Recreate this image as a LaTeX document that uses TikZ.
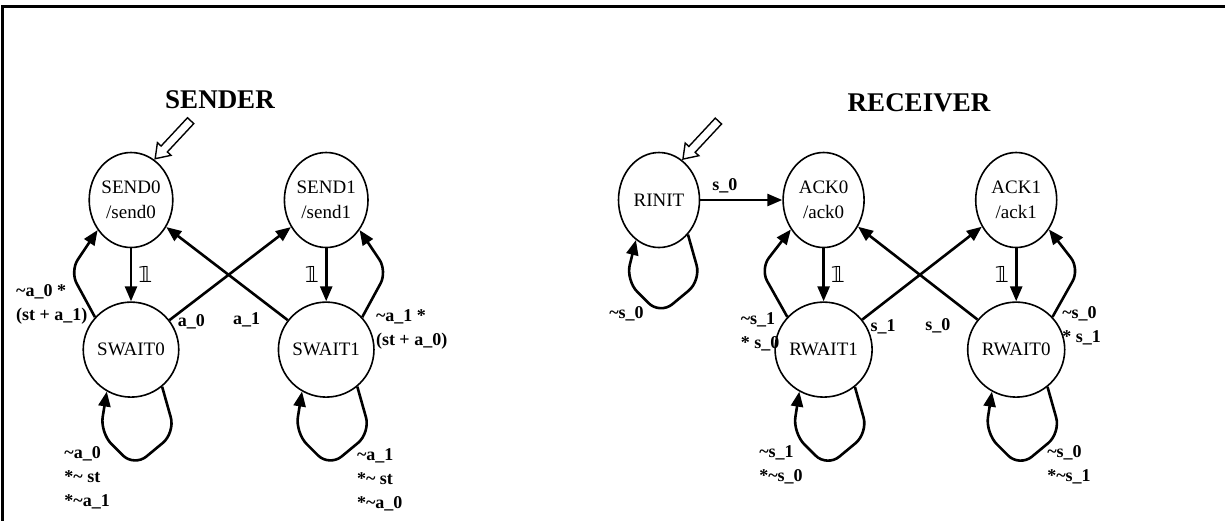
\documentclass[tikz,border=0pt]{standalone}
\usepackage{fontspec}
\setmainfont{Liberation Serif}
\newfontfamily\dejavu{DejaVu Sans}
\usetikzlibrary{positioning,shapes.geometric,shapes.arrows,arrows.meta}

\newcommand{\bbone}{{\dejavu\symbol{"1D7D9}}}

\tikzset{
  fsm/.style={draw, ellipse, line width=0.8pt, minimum width=40.5pt, minimum height=47.5pt,
    inner sep=0pt, align=center, font=\fontsize{9.5}{12.5}\selectfont},
  trans/.style={line width=1.3pt, -{Triangle[length=7.5pt,width=6pt]}},
  lbl/.style={font=\bfseries\fontsize{9}{12}\selectfont, align=left, inner sep=1pt},
  one/.style={font=\fontsize{11}{13}\selectfont, inner sep=3pt},
  ttl/.style={font=\bfseries\fontsize{13.5}{16}\selectfont},
  initarr/.style={draw, single arrow, line width=0.7pt, fill=white, minimum height=26pt,
    single arrow head extend=2.5pt, single arrow tip angle=70, inner sep=1.8pt, rotate=-133},
}

\begin{document}
\begin{tikzpicture}[x=0.5pt,y=0.5pt,auto,node distance=26.5pt and 55pt]
    \useasboundingbox (0,0) rectangle (1225,-521);
    \draw[line width=1.2pt] (1225,-6.5) -| (2.5,-521);

    % sender
    \node[ttl] (sttl) at (220,-100) {SENDER};
    \node[fsm] (send0) at (131,-200) {SEND0\\/send0};
    \node[fsm] (send1) [right=of send0] {SEND1\\/send1};
    \node[fsm] (swait0) [below=of send0] {SWAIT0};
    \node[fsm] (swait1) [below=of send1] {SWAIT1};
    \node[initarr, anchor=tip] (sstart) at (send0.60) {};

    \draw[trans] (send0)
        edge node[one] {\bbone} (swait0);
    \draw[trans] (send1)
        edge node[one,swap] {\bbone} (swait1);
    \draw[trans] (swait0)
        edge node[lbl, pos=0.1, anchor=north west, xshift=-3.5pt] {a\_0} (send1);
    \draw[trans] (swait1)
        edge node[lbl, pos=0.2, anchor=north east, yshift=-4pt] {a\_1} (send0);
    \draw[trans, rounded corners=7pt] (swait0.138)
        -- ++(-25,46) node[lbl, pos=0.33, anchor=east, xshift=2pt, yshift=-1pt] {\textasciitilde a\_0 *\\(st + a\_1)}
        -- (send0.222);
    \draw[trans, rounded corners=7pt] (swait1.42)
        -- ++(25,46) node[lbl, pos=0.3, anchor=north west, xshift=1.5pt, yshift=-1.5pt] {\textasciitilde a\_1 *\\(st + a\_0)}
        -- (send1.318);
    \draw[trans, rounded corners=8pt] (swait0.-50) -- ++(13,-46) -- ++(-41,-34)
        -- ++(-34,34) node[lbl, pos=0.5, anchor=north east, xshift=-2pt, yshift=3pt] {\textasciitilde a\_0\\*\textasciitilde{} st\\*\textasciitilde a\_1}
        -- (swait0.-120);
    \draw[trans, rounded corners=8pt] (swait1.-50) -- ++(13,-46)
        -- ++(-41,-34) node[lbl, pos=0.5, anchor=north west, xshift=2pt, yshift=2pt] {\textasciitilde a\_1\\*\textasciitilde{} st\\*\textasciitilde a\_0}
        -- ++(-34,34) -- (swait1.-120);

    % receiver
    \node[ttl] (rttl) at (919,-103) {RECEIVER};
    \node[fsm] (rinit) at (659,-200) {RINIT};
    \node[fsm] (ack0) [right=41pt of rinit] {ACK0\\/ack0};
    \node[fsm] (ack1) [right=of ack0] {ACK1\\/ack1};
    \node[fsm] (rwait1) [below=of ack0] {RWAIT1};
    \node[fsm] (rwait0) [below=of ack1] {RWAIT0};
    \node[initarr, anchor=tip] (rstart) at (rinit.60) {};

    \draw[trans] (rinit)
        edge node[lbl, pos=0.3, yshift=2pt] {s\_0} (ack0);
    \draw[trans, rounded corners=8pt] (rinit.-50) -- ++(13,-46) -- ++(-41,-34)
        -- ++(-34,34) node[lbl, pos=0.5, anchor=north east, xshift=2pt, yshift=-3pt] {\textasciitilde s\_0}
        -- (rinit.-120);
    \draw[trans] (ack0)
        edge node[one] {\bbone} (rwait1);
    \draw[trans] (ack1)
        edge node[one,swap] {\bbone} (rwait0);
    \draw[trans] (rwait1)
        edge node[lbl, pos=0.1, anchor=north west, xshift=-3.5pt, yshift=-3pt] {s\_1} (ack1);
    \draw[trans] (rwait0)
        edge node[lbl, pos=0.2, anchor=north east, yshift=-7pt] {s\_0} (ack0);
    \draw[trans, rounded corners=7pt] (rwait1.138)
        -- ++(-27,48) node[lbl, pos=0.25, anchor=north east, xshift=1pt, yshift=-2pt] {\textasciitilde s\_1\\* s\_0}
        -- (ack0.222);
    \draw[trans, rounded corners=7pt] (rwait0.42)
        -- ++(27,48) node[lbl, pos=0.35, anchor=north west, xshift=-1.5pt, yshift=-1.5pt] {\textasciitilde s\_0\\* s\_1}
        -- (ack1.318);
    \draw[trans, rounded corners=8pt] (rwait1.-50) -- ++(13,-46) -- ++(-41,-34)
        -- ++(-34,34) node[lbl, pos=0.5, anchor=north east, xshift=-2pt, yshift=4pt] {\textasciitilde s\_1\\*\textasciitilde s\_0}
        -- (rwait1.-120);
    \draw[trans, rounded corners=8pt] (rwait0.-50) -- ++(13,-46)
        -- ++(-41,-34) node[lbl, pos=0.5, anchor=north west, xshift=2pt, yshift=4pt] {\textasciitilde s\_0\\*\textasciitilde s\_1}
        -- ++(-34,34) -- (rwait0.-120);
\end{tikzpicture}
\end{document}
